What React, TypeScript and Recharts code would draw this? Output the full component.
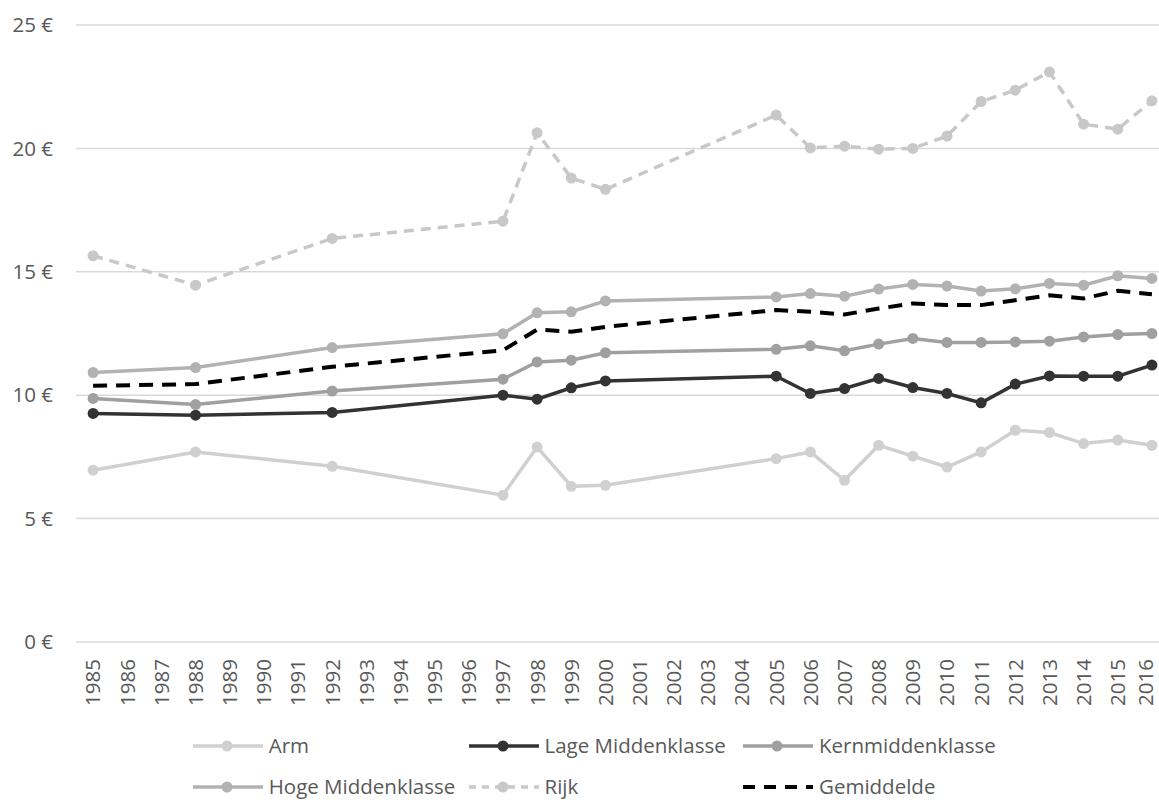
import React from 'react';
import { LineChart, Line, XAxis, YAxis, CartesianGrid, Legend } from 'recharts';

// alle jaren op de as (ook jaren zonder meting)
const years = [
  1985, 1986, 1987, 1988, 1989, 1990, 1991, 1992, 1993, 1994, 1995, 1996, 1997, 1998, 1999, 2000,
  2001, 2002, 2003, 2004, 2005, 2006, 2007, 2008, 2009, 2010, 2011, 2012, 2013, 2014, 2015, 2016,
];

// jaren met een meting
const measuredYears = [
  1985, 1988, 1992, 1997, 1998, 1999, 2000, 2005, 2006, 2007, 2008, 2009, 2010, 2011, 2012, 2013, 2014, 2015, 2016,
];

const arm = [6.96, 7.7, 7.12, 5.95, 7.9, 6.31, 6.35, 7.43, 7.7, 6.55, 7.97, 7.53, 7.09, 7.7, 8.58, 8.49, 8.04, 8.18, 7.97];
const lageMidden = [9.26, 9.19, 9.3, 10.0, 9.84, 10.3, 10.58, 10.77, 10.07, 10.27, 10.68, 10.31, 10.07, 9.69, 10.45, 10.78, 10.77, 10.77, 11.22];
const kernMidden = [9.87, 9.62, 10.17, 10.65, 11.35, 11.42, 11.72, 11.86, 12.0, 11.8, 12.07, 12.3, 12.14, 12.14, 12.16, 12.19, 12.36, 12.46, 12.5];
const hogeMidden = [10.92, 11.12, 11.93, 12.49, 13.34, 13.38, 13.82, 13.98, 14.12, 14.01, 14.3, 14.49, 14.42, 14.22, 14.31, 14.53, 14.46, 14.84, 14.73];
const rijk = [15.65, 14.46, 16.35, 17.05, 20.63, 18.8, 18.34, 21.35, 20.02, 20.09, 19.97, 20.0, 20.5, 21.9, 22.36, 23.1, 20.98, 20.78, 21.93];
const gemiddelde = [10.38, 10.45, 11.15, 11.82, 12.66, 12.57, 12.77, 13.45, 13.38, 13.27, 13.51, 13.72, 13.65, 13.65, 13.85, 14.05, 13.92, 14.23, 14.09];

const yTicks = [0, 5, 10, 15, 20, 25];

const FONT = "'Open Sans', sans-serif";
const FS = 20.5;
const TEXT = '#595959';

const series = [
  { key: 'arm', name: 'Arm', values: arm, color: '#D0D0D0', dash: undefined, legendDash: undefined, dot: true, width: 3.5 },
  { key: 'lage', name: 'Lage Middenklasse', values: lageMidden, color: '#333333', dash: undefined, legendDash: undefined, dot: true, width: 3.5 },
  { key: 'kern', name: 'Kernmiddenklasse', values: kernMidden, color: '#A0A0A0', dash: undefined, legendDash: undefined, dot: true, width: 3.5 },
  { key: 'hoge', name: 'Hoge Middenklasse', values: hogeMidden, color: '#B2B2B2', dash: undefined, legendDash: undefined, dot: true, width: 3.5 },
  { key: 'rijk', name: 'Rijk', values: rijk, color: '#C8C8C8', dash: '10 7', legendDash: '7 6', dot: true, width: 3.5 },
  { key: 'gem', name: 'Gemiddelde', values: gemiddelde, color: '#000000', dash: '14 9', legendDash: '12 9', dot: false, width: 4 },
];

const data = years.map((year) => {
  const row: Record<string, number | string | null> = { year: String(year) };
  const idx = measuredYears.indexOf(year);
  series.forEach((s) => {
    row[s.key] = idx >= 0 ? s.values[idx] : null;
  });
  return row;
});

// laatste label iets naar links zodat het niet buiten beeld valt
const YearTick = ({ x, y, payload, index }: any) => {
  const shift = index === years.length - 1 ? -6 : 0;
  return (
    <g transform={`translate(${x + shift},${y + 17})`}>
      <text transform="rotate(-90)" textAnchor="end" dy="0.36em" fill={TEXT} fontSize={FS} fontFamily={FONT}>
        {payload.value}
      </text>
    </g>
  );
};

// legenda: 2 rijen x 3 kolommen
const legendCols = [192.7, 468.5, 743];
const legendRows = [43.7, 85];

const LegendSymbol = ({ color, dash, dot, width }: any) => (
  <svg width={70} height={14} style={{ position: 'absolute', left: 0, top: -7 }}>
    <line x1={0} y1={7} x2={70} y2={7} stroke={color} strokeWidth={width} strokeDasharray={dash} />
    {dot && <circle cx={34} cy={7} r={5.5} fill={color} />}
  </svg>
);

const renderLegend = () => (
  <div style={{ position: 'relative', width: 1169, height: 98, fontFamily: FONT }}>
    {series.map((s, i) => {
      const col = i % 3;
      const row = Math.floor(i / 3);
      return (
        <div key={s.key} style={{ position: 'absolute', left: legendCols[col], top: legendRows[row] }}>
          <LegendSymbol color={s.color} dash={s.legendDash} dot={s.dot} width={s.width} />
          <span
            style={{
              position: 'absolute',
              left: 76,
              top: -10,
              fontSize: FS,
              lineHeight: '19px',
              color: TEXT,
              whiteSpace: 'nowrap',
            }}
          >
            {s.name}
          </span>
        </div>
      );
    })}
  </div>
);

export default function App() {
  return (
    <div style={{ position: 'absolute', left: 0, top: 0, width: 1159, height: 800, overflow: 'hidden', background: '#fff' }}>
      <LineChart width={1169} height={800} data={data} margin={{ top: 25, right: 0, left: 0, bottom: 0 }}>
        <CartesianGrid vertical={false} stroke="#D9D9D9" strokeWidth={1.5} />
        <XAxis
          dataKey="year"
          interval={0}
          height={60}
          padding={{ left: 17.08, right: 17.08 }}
          tickLine={false}
          axisLine={false}
          tickSize={0}
          tickMargin={0}
          tick={<YearTick />}
        />
        <YAxis
          width={76}
          domain={[0, 25]}
          ticks={yTicks}
          tickLine={false}
          axisLine={false}
          tickSize={0}
          tickMargin={23}
          tickFormatter={(v) => `${v} €`}
          tick={{ fill: TEXT, fontSize: FS, fontFamily: FONT }}
        />
        <Legend verticalAlign="bottom" content={renderLegend} />
        {series.map((s) => (
          <Line
            key={s.key}
            type="linear"
            dataKey={s.key}
            name={s.name}
            stroke={s.color}
            strokeWidth={s.width}
            strokeDasharray={s.dash}
            connectNulls
            dot={s.dot ? { r: 5.5, fill: s.color, stroke: s.color, strokeWidth: 0 } : false}
            activeDot={false}
            isAnimationActive={false}
          />
        ))}
      </LineChart>
    </div>
  );
}
